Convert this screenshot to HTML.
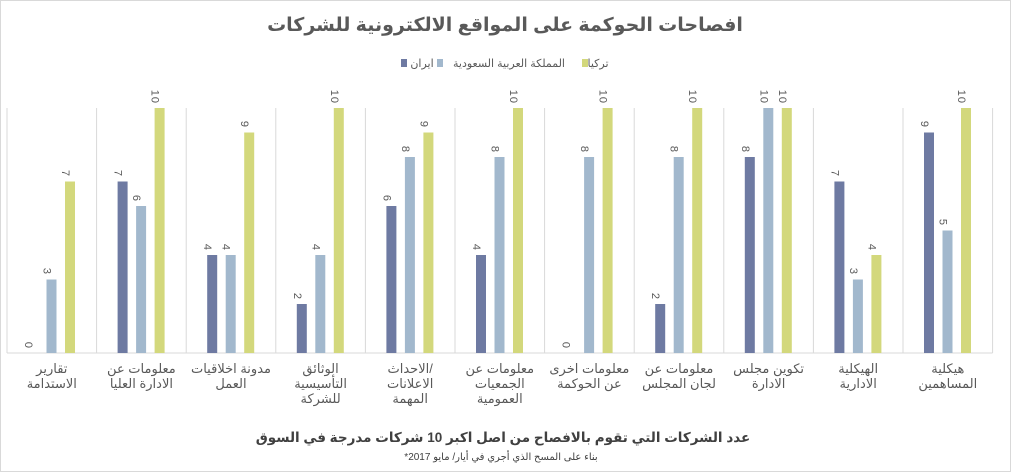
<!DOCTYPE html>
<html><head><meta charset="utf-8"><style>
body{margin:0;background:#fff}
svg{display:block;font-family:"Liberation Sans","DejaVu Sans",sans-serif}
.v{font-size:11px;fill:#595959;letter-spacing:1px}
.c{font-size:13px;fill:#595959;letter-spacing:1.5px}
.a{fill:#6e7aa2}.b{fill:#a2b8cd}.g{fill:#d3d87c}
</style></head><body>
<svg width="1011" height="472" viewBox="0 0 1011 472" xmlns="http://www.w3.org/2000/svg">
<rect x="0.5" y="0.5" width="1010" height="471" fill="#fff" stroke="#d9d9d9"/>
<text x="505" y="31" text-anchor="middle" font-size="19" font-weight="bold" fill="#595959">افصاحات الحوكمة على المواقع الالكترونية للشركات</text>
<g font-size="11" fill="#595959" text-anchor="middle">
<rect x="401" y="59" width="6" height="8" class="a"/><text x="422" y="67">ايران</text>
<rect x="437" y="59" width="6" height="8" class="b"/><text x="509" y="67">المملكة العربية السعودية</text>
<rect x="582" y="59" width="6" height="8" class="g"/><text x="598" y="67">تركيا</text>
</g>
<g stroke="#d9d9d9" stroke-width="1">
<line x1="7" y1="108" x2="7" y2="353"/><line x1="96.6" y1="108" x2="96.6" y2="353"/><line x1="186.2" y1="108" x2="186.2" y2="353"/><line x1="275.8" y1="108" x2="275.8" y2="353"/><line x1="365.4" y1="108" x2="365.4" y2="353"/><line x1="455" y1="108" x2="455" y2="353"/><line x1="544.6" y1="108" x2="544.6" y2="353"/><line x1="634.2" y1="108" x2="634.2" y2="353"/><line x1="723.8" y1="108" x2="723.8" y2="353"/><line x1="813.4" y1="108" x2="813.4" y2="353"/><line x1="903" y1="108" x2="903" y2="353"/><line x1="992.6" y1="108" x2="992.6" y2="353"/>
<line x1="7" y1="353" x2="992.6" y2="353"/>
</g>
<rect x="46.5" y="279.5" width="10" height="73.5" class="b"/><rect x="65" y="181.5" width="10" height="171.5" class="g"/>
<rect x="117.6" y="181.5" width="10" height="171.5" class="a"/><rect x="136.1" y="206" width="10" height="147" class="b"/><rect x="154.6" y="108" width="10" height="245" class="g"/>
<rect x="207.2" y="255" width="10" height="98" class="a"/><rect x="225.7" y="255" width="10" height="98" class="b"/><rect x="244.2" y="132.5" width="10" height="220.5" class="g"/>
<rect x="296.8" y="304" width="10" height="49" class="a"/><rect x="315.3" y="255" width="10" height="98" class="b"/><rect x="333.8" y="108" width="10" height="245" class="g"/>
<rect x="386.4" y="206" width="10" height="147" class="a"/><rect x="404.9" y="157" width="10" height="196" class="b"/><rect x="423.4" y="132.5" width="10" height="220.5" class="g"/>
<rect x="476" y="255" width="10" height="98" class="a"/><rect x="494.5" y="157" width="10" height="196" class="b"/><rect x="513" y="108" width="10" height="245" class="g"/>
<rect x="584.1" y="157" width="10" height="196" class="b"/><rect x="602.6" y="108" width="10" height="245" class="g"/>
<rect x="655.2" y="304" width="10" height="49" class="a"/><rect x="673.7" y="157" width="10" height="196" class="b"/><rect x="692.2" y="108" width="10" height="245" class="g"/>
<rect x="744.8" y="157" width="10" height="196" class="a"/><rect x="763.3" y="108" width="10" height="245" class="b"/><rect x="781.8" y="108" width="10" height="245" class="g"/>
<rect x="834.4" y="181.5" width="10" height="171.5" class="a"/><rect x="852.9" y="279.5" width="10" height="73.5" class="b"/><rect x="871.4" y="255" width="10" height="98" class="g"/>
<rect x="924" y="132.5" width="10" height="220.5" class="a"/><rect x="942.5" y="230.5" width="10" height="122.5" class="b"/><rect x="961" y="108" width="10" height="245" class="g"/>
<g class="v" text-anchor="end">
<text transform="translate(29,349) rotate(90)" dy="4">0</text><text transform="translate(47.5,275) rotate(90)" dy="4">3</text><text transform="translate(66,177) rotate(90)" dy="4">7</text>
<text transform="translate(118.6,177) rotate(90)" dy="4">7</text><text transform="translate(137.1,202) rotate(90)" dy="4">6</text><text transform="translate(155.6,104) rotate(90)" dy="4">10</text>
<text transform="translate(208.2,251) rotate(90)" dy="4">4</text><text transform="translate(226.7,251) rotate(90)" dy="4">4</text><text transform="translate(245.2,128) rotate(90)" dy="4">9</text>
<text transform="translate(297.8,300) rotate(90)" dy="4">2</text><text transform="translate(316.3,251) rotate(90)" dy="4">4</text><text transform="translate(334.8,104) rotate(90)" dy="4">10</text>
<text transform="translate(387.4,202) rotate(90)" dy="4">6</text><text transform="translate(405.9,153) rotate(90)" dy="4">8</text><text transform="translate(424.4,128) rotate(90)" dy="4">9</text>
<text transform="translate(477,251) rotate(90)" dy="4">4</text><text transform="translate(495.5,153) rotate(90)" dy="4">8</text><text transform="translate(514,104) rotate(90)" dy="4">10</text>
<text transform="translate(566.6,349) rotate(90)" dy="4">0</text><text transform="translate(585.1,153) rotate(90)" dy="4">8</text><text transform="translate(603.6,104) rotate(90)" dy="4">10</text>
<text transform="translate(656.2,300) rotate(90)" dy="4">2</text><text transform="translate(674.7,153) rotate(90)" dy="4">8</text><text transform="translate(693.2,104) rotate(90)" dy="4">10</text>
<text transform="translate(745.8,153) rotate(90)" dy="4">8</text><text transform="translate(764.3,104) rotate(90)" dy="4">10</text><text transform="translate(782.8,104) rotate(90)" dy="4">10</text>
<text transform="translate(835.4,177) rotate(90)" dy="4">7</text><text transform="translate(853.9,275) rotate(90)" dy="4">3</text><text transform="translate(872.4,251) rotate(90)" dy="4">4</text>
<text transform="translate(925,128) rotate(90)" dy="4">9</text><text transform="translate(943.5,226) rotate(90)" dy="4">5</text><text transform="translate(962,104) rotate(90)" dy="4">10</text>
</g>
<g class="c" text-anchor="middle">
<text x="51.8" y="373">تقارير</text><text x="51.8" y="388">الاستدامة</text>
<text x="141.4" y="373">معلومات عن</text><text x="141.4" y="388">الادارة العليا</text>
<text x="231" y="373">مدونة اخلاقيات</text><text x="231" y="388">العمل</text>
<text x="320.6" y="373">الوثائق</text><text x="320.6" y="388">التأسيسية</text><text x="320.6" y="403">للشركة</text>
<text x="410.2" y="373">الاحداث/</text><text x="410.2" y="388">الاعلانات</text><text x="410.2" y="403">المهمة</text>
<text x="499.8" y="373">معلومات عن</text><text x="499.8" y="388">الجمعيات</text><text x="499.8" y="403">العمومية</text>
<text x="589.4" y="373">معلومات اخرى</text><text x="589.4" y="388">عن الحوكمة</text>
<text x="679" y="373">معلومات عن</text><text x="679" y="388">لجان المجلس</text>
<text x="768.6" y="373">تكوين مجلس</text><text x="768.6" y="388">الادارة</text>
<text x="858.2" y="373">الهيكلية</text><text x="858.2" y="388">الادارية</text>
<text x="947.8" y="373">هيكلية</text><text x="947.8" y="388">المساهمين</text>
</g>
<text x="503" y="442" text-anchor="middle" font-size="13.5" font-weight="bold" fill="#404040">عدد الشركات التي تقوم بالافصاح من اصل اكبر 10 شركات مدرجة في السوق</text>
<text x="501" y="460" text-anchor="middle" font-size="10" fill="#404040">*بناء على المسح الذي أجري في أيار/ مايو 2017</text>
</svg>
</body></html>
